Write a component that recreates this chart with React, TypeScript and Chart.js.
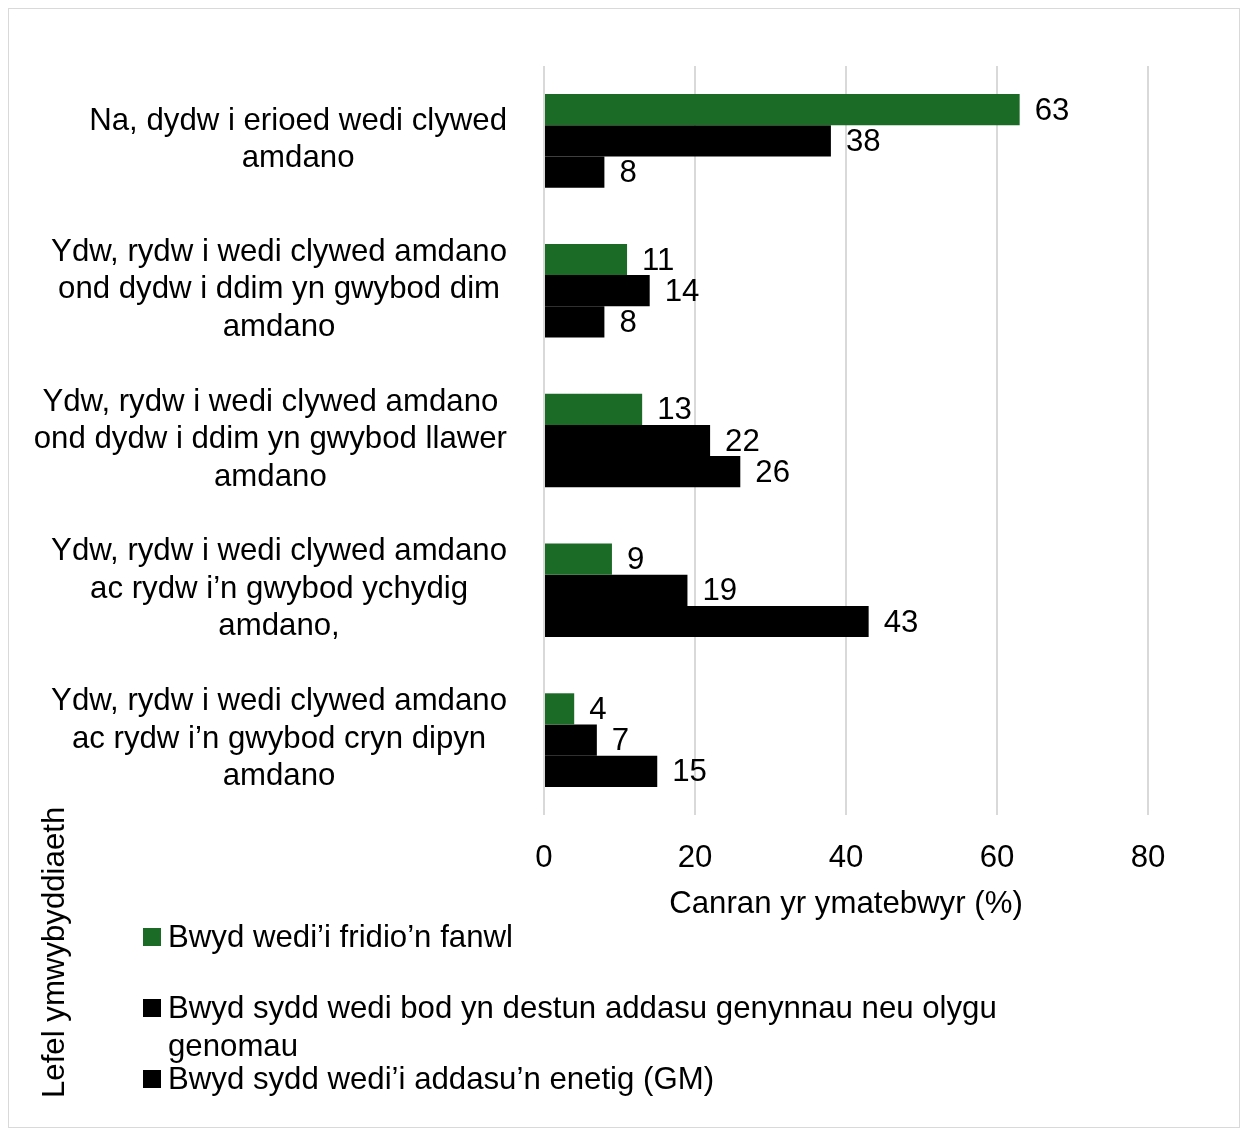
import React, { useEffect, useRef } from "react";
import { Chart, registerables } from "chart.js";

Chart.register(...registerables);

const categories: string[][] = [
  ["Na, dydw i erioed wedi clywed", "amdano"],
  ["Ydw, rydw i wedi clywed amdano", "ond dydw i ddim yn gwybod dim", "amdano"],
  ["Ydw, rydw i wedi clywed amdano", "ond dydw i ddim yn gwybod llawer", "amdano"],
  ["Ydw, rydw i wedi clywed amdano", "ac rydw i’n gwybod ychydig", "amdano,"],
  ["Ydw, rydw i wedi clywed amdano", "ac rydw i’n gwybod cryn dipyn", "amdano"],
];

const seriesNames: string[][] = [
  ["Bwyd wedi’i fridio’n fanwl"],
  ["Bwyd sydd wedi bod yn destun addasu genynnau neu olygu", "genomau"],
  ["Bwyd sydd wedi’i addasu’n enetig (GM)"],
];

const preciselyBred: number[] = [63, 11, 13, 9, 4];
const geneEdited: number[] = [38, 14, 22, 19, 7];
const geneticallyModified: number[] = [8, 8, 26, 43, 15];

const seriesColors: string[] = ["#1b6b26", "#000000", "#000000"];

const xTicks: number[] = [0, 20, 40, 60, 80];

const xTitle = "Canran yr ymatebwyr (%)";
const yTitle = "Lefel ymwybyddiaeth";

const FONT_FAMILY = "'Liberation Sans', Arial, sans-serif";
const FONT_SIZE = 31.2;
const FONT = `${FONT_SIZE}px ${FONT_FAMILY}`;
const LINE_H = 37.5;

const customDraw = {
  id: "customDraw",
  afterDatasetsDraw(chart: any) {
    const ctx = chart.ctx as CanvasRenderingContext2D;
    ctx.save();
    ctx.font = FONT;
    ctx.fillStyle = "#000";
    ctx.textBaseline = "middle";
    ctx.textAlign = "left";
    chart.data.datasets.forEach((ds: any, di: number) => {
      const meta = chart.getDatasetMeta(di);
      meta.data.forEach((bar: any, i: number) => {
        ctx.fillText(String(ds.data[i]), bar.x + 15, bar.y + 1.5);
      });
    });
    ctx.restore();
  },
  afterDraw(chart: any) {
    const ctx = chart.ctx as CanvasRenderingContext2D;
    const yScale = chart.scales.y;
    ctx.save();
    ctx.font = FONT;
    ctx.fillStyle = "#000";
    ctx.textBaseline = "middle";
    ctx.textAlign = "center";
    // category labels: block right-aligned, lines centered in block
    const blockRight = chart.chartArea.left - 37;
    categories.forEach((lines, i) => {
      const cy = yScale.getPixelForTick(i) - 1;
      const w = Math.max(...lines.map((l) => ctx.measureText(l).width));
      const cx = blockRight - w / 2;
      const startY = cy - ((lines.length - 1) * LINE_H) / 2;
      lines.forEach((l, k) => ctx.fillText(l, cx, startY + k * LINE_H));
    });

    // y title (rotated), bottom-left
    ctx.save();
    ctx.translate(46, 1089);
    ctx.rotate(-Math.PI / 2);
    ctx.textAlign = "left";
    ctx.textBaseline = "middle";
    ctx.fillText(yTitle, 0, 0);
    ctx.restore();

    // legend
    const legendTop = chart.chartArea.bottom + 122;
    const rowStep = 71;
    const markerX = 134;
    const textX = 159;
    const marker = 18;
    ctx.textAlign = "left";
    seriesNames.forEach((lines, i) => {
      const y = legendTop + i * rowStep;
      ctx.fillStyle = seriesColors[i];
      ctx.fillRect(markerX, y - marker / 2, marker, marker);
      ctx.fillStyle = "#000";
      lines.forEach((l, k) => ctx.fillText(l, textX, y + 1.5 + k * LINE_H));
    });
    ctx.restore();
  },
};

export default function App() {
  const ref = useRef<HTMLCanvasElement | null>(null);
  useEffect(() => {
    if (!ref.current) return;
    const chart = new Chart(ref.current, {
      type: "bar",
      data: {
        labels: categories.map((c) => c.join(" ")),
        datasets: [
          { label: seriesNames[0].join(" "), data: preciselyBred, backgroundColor: seriesColors[0] },
          { label: seriesNames[1].join(" "), data: geneEdited, backgroundColor: seriesColors[1] },
          { label: seriesNames[2].join(" "), data: geneticallyModified, backgroundColor: seriesColors[2] },
        ],
      },
      options: {
        indexAxis: "y",
        animation: false,
        responsive: false,
        maintainAspectRatio: false,
        layout: { padding: { top: 57, right: 91, left: 0, bottom: 200 } },
        datasets: { bar: { categoryPercentage: 0.625, barPercentage: 1.0 } },
        plugins: { legend: { display: false }, tooltip: { enabled: false } },
        scales: {
          x: {
            type: "linear",
            min: 0,
            max: 80,
            afterBuildTicks: (scale: any) => {
              scale.ticks = xTicks.map((v) => ({ value: v }));
            },
            afterFit: (scale: any) => {
              scale.height = 112;
            },
            grid: { color: "#d9d9d9", lineWidth: 2, drawTicks: false },
            border: { display: false },
            ticks: { font: { family: FONT_FAMILY, size: FONT_SIZE }, color: "#000", padding: 25 },
            title: {
              display: true,
              text: xTitle,
              font: { family: FONT_FAMILY, size: FONT_SIZE },
              color: "#000",
              padding: { top: 0, bottom: 4 },
            },
          },
          y: {
            type: "category",
            afterFit: (scale: any) => {
              scale.width = 535;
            },
            grid: { display: false },
            border: { display: false },
            ticks: { display: false },
          },
        },
      },
      plugins: [customDraw],
    });
    return () => chart.destroy();
  }, []);
  return (
    <div style={{ width: 1230, height: 1118, border: "1px solid #d9d9d9", background: "#fff" }}>
      <canvas ref={ref} width={1230} height={1118} style={{ display: "block" }} />
    </div>
  );
}
